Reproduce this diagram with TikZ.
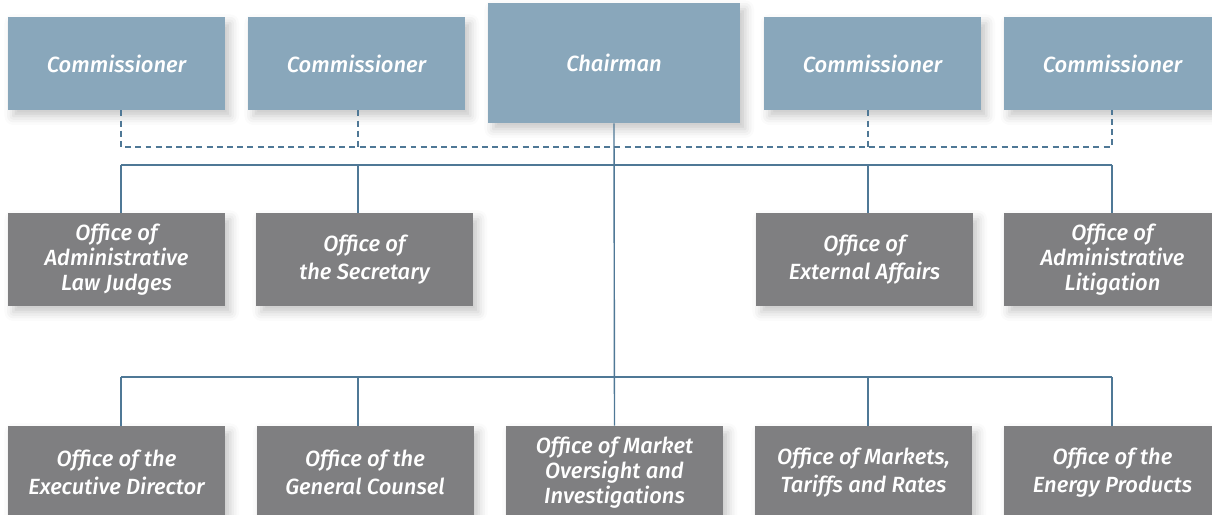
\documentclass[tikz,border=0pt]{standalone}
\usepackage{fontspec}
\setmainfont{Fira Sans}[ItalicFont={Fira Sans Medium Italic}]
\usepackage{tikz}
\usetikzlibrary{positioning,calc,shadows.blur}
\definecolor{headblue}{HTML}{89A7BB}
\definecolor{officegrey}{HTML}{7F7F81}
\definecolor{linkblue}{HTML}{4F7896}
\tikzset{
  orgbox/.style={align=center, text=white, inner sep=2pt,
    font=\fontsize{12.5}{15.9}\selectfont\itshape,
    minimum width=4.34cm, minimum height=1.86cm,
    blur shadow={shadow xshift=3pt, shadow yshift=-3.5pt,
      shadow blur radius=5pt, shadow opacity=22}},
  orghead/.style={orgbox, fill=headblue},
  orgoffice/.style={orgbox, fill=officegrey},
  orgthree/.style={orgoffice, font=\fontsize{12.5}{14.2}\selectfont\itshape},
  orgline/.style={draw=linkblue, line width=0.8pt},
  orgdash/.style={orgline, dash pattern=on 3.4pt off 2.4pt},
}

\begin{document}
\begin{tikzpicture}[x=0.2mm, y=-0.2mm]
  \useasboundingbox (0,0) rectangle (1212,515);
  % spalten und sammelschienen
  \coordinate (col1) at (121,0);
  \coordinate (col2) at (358,0);
  \coordinate (col3) at (614,0);
  \coordinate (col4) at (868,0);
  \coordinate (col5) at (1112,0);
  \coordinate (dbus) at (0,147);
  \coordinate (ubus) at (0,165);
  \coordinate (lbus) at (0,377);

  % Kommission
  \node[orghead] (com1) at (116.5,63.5) {Commissioner};
  \node[orghead] (com2) at (356.5,63.5) {Commissioner};
  \node[orghead, minimum width=5.04cm, minimum height=2.4cm] (chair) at (614,63) {Chairman};
  \node[orghead] (com3) at (872.5,63.5) {Commissioner};
  \node[orghead] (com4) at (1112.5,63.5) {Commissioner};

  % mittlere Reihe
  \node[orgthree] (alj) at (116.5,259.5) {Office of\\Administrative\\Law Judges};
  \node[orgoffice] (sec) at (364.5,259.5) {Office of\\the Secretary};
  \node[orgoffice] (ext) at (864.5,259.5) {Office of\\External Affairs};
  \node[orgthree] (lit) at (1112.5,259.5) {Office of\\Administrative\\Litigation};

  % untere Reihe
  \node[orgoffice] (exe) at (116.5,472.5) {Office of the\\Executive Director};
  \node[orgoffice] (gen) at (365,472.5) {Office of the\\General Counsel};
  \node[orgthree] (mkt) at (614.5,472.5) {Office of Market\\Oversight and\\Investigations};
  \node[orgoffice] (tar) at (863.5,472.5) {Office of Markets,\\Tariffs and Rates};
  \node[orgoffice] (enp) at (1112.5,472.5) {Office of the\\Energy Products};

  % gestrichelte Verbindung der Kommissare
  \draw[orgdash] (com1.south -| col1) -- (dbus -| col1) -- (dbus -| col5) -- (com4.south -| col5);
  \draw[orgdash] (com2.south -| col2) -- (dbus -| col2);
  \draw[orgdash] (com3.south -| col4) -- (dbus -| col4);

  % Linie vom Chairman
  \draw[orgline] (chair.south) -- (mkt.north);
  \draw[orgline] (ubus -| col1) -- (ubus -| col5);
  \foreach \c/\n in {col1/alj, col2/sec, col4/ext, col5/lit}
    \draw[orgline] (ubus -| \c) -- (\n.north -| \c);
  \draw[orgline] (lbus -| col1) -- (lbus -| col5);
  \foreach \c/\n in {col1/exe, col2/gen, col4/tar, col5/enp}
    \draw[orgline] (lbus -| \c) -- (\n.north -| \c);
\end{tikzpicture}
\end{document}
